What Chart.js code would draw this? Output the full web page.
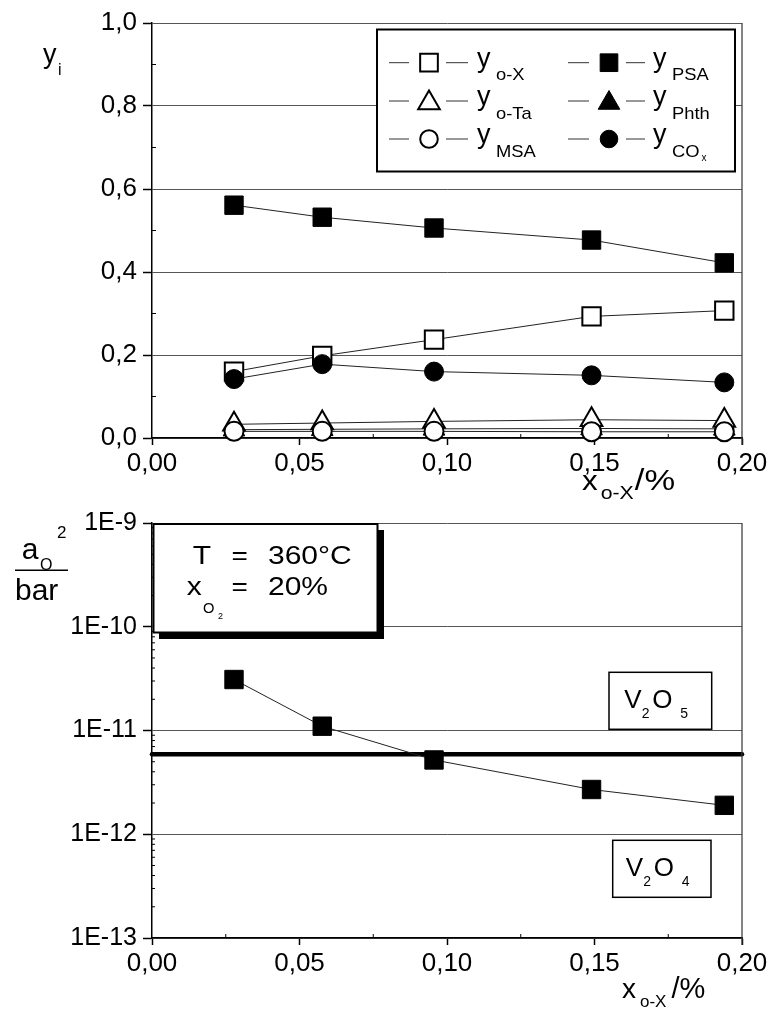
<!DOCTYPE html>
<html><head><meta charset="utf-8">
<script src="https://cdn.jsdelivr.net/npm/chart.js@4.4.1/dist/chart.umd.min.js"></script>
<style>
html,body{margin:0;padding:0;background:#fff;}
#wrap{position:relative;width:773px;height:1010px;overflow:hidden;}
.box{position:absolute;left:0;width:773px;}
</style></head><body>
<div id="wrap">
<div class="box" style="top:0;height:500px"><canvas id="c1" width="773" height="500"></canvas></div>
<div class="box" style="top:500px;height:510px"><canvas id="c2" width="773" height="510"></canvas></div>
</div>
<script>
// ---------- data ----------
const xOX = [0.0278, 0.0577, 0.0956, 0.149, 0.194];
const yOX = [0.160, 0.198, 0.237, 0.293, 0.307];
const yOTa = [0.033, 0.036, 0.040, 0.044, 0.042];
const yMSA = [0.016, 0.016, 0.016, 0.015, 0.015];
const yPSA = [0.561, 0.532, 0.506, 0.477, 0.422];
const yPhth = [0.020, 0.021, 0.022, 0.023, 0.022];
const yCOx = [0.142, 0.178, 0.160, 0.151, 0.134];
const aO2 = [3.1e-11, 1.1e-11, 5.2e-12, 2.7e-12, 1.9e-12];
const eqX = [0, 0.2];
const eqLevel = [5.9e-12, 5.9e-12];
const xTicks = [0, 0.05, 0.10, 0.15, 0.20];
const xMinor = [0.025, 0.075, 0.125, 0.175];
const yTicksTop = [0, 0.2, 0.4, 0.6, 0.8, 1.0];
const yMinorTop = [0.1, 0.3, 0.5, 0.7, 0.9];
const yTicksBottom = [1e-13, 1e-12, 1e-11, 1e-10, 1e-9];

const FONT = "'Liberation Sans', Arial, Helvetica, sans-serif";

function txt(ctx, s, x, y, size, sx) {
  ctx.save();
  ctx.font = size + 'px ' + FONT;
  ctx.fillStyle = '#000';
  ctx.textBaseline = 'alphabetic';
  ctx.textAlign = 'left';
  ctx.translate(x, y);
  ctx.scale(sx || 1, 1);
  ctx.fillText(s, 0, 0);
  const w = ctx.measureText(s).width * (sx || 1);
  ctx.restore();
  return x + w;
}

function marker(ctx, style, x, y, r, filled) {
  ctx.save();
  ctx.fillStyle = filled ? '#000' : '#fff';
  ctx.strokeStyle = '#000';
  ctx.lineWidth = filled ? 1 : 2;
  ctx.beginPath();
  if (style === 'rect') {
    const h = r * Math.SQRT1_2;
    ctx.rect(x - h, y - h, 2 * h, 2 * h);
  } else if (style === 'triangle') {
    ctx.moveTo(x, y - r);
    ctx.lineTo(x + 0.866 * r, y + 0.5 * r);
    ctx.lineTo(x - 0.866 * r, y + 0.5 * r);
    ctx.closePath();
  } else {
    ctx.arc(x, y, r, 0, Math.PI * 2);
  }
  ctx.fill(); ctx.stroke();
  ctx.restore();
}

const R = {rect: 13, triangle: 12.5, circle: 9.5};

function series(label, xs, ys, style, filled) {
  return {
    label, data: xs.map((x, i) => ({x, y: ys[i]})),
    pointStyle: style, pointRadius: R[style], pointHoverRadius: R[style],
    pointBackgroundColor: filled ? '#000' : '#fff', pointBorderColor: '#000',
    pointBorderWidth: filled ? 1 : 2,
    borderColor: '#222', borderWidth: 1, fill: false, tension: 0, clip: false
  };
}

const fmtX = v => v.toFixed(2).replace('.', ',');
const fmtYTop = v => v.toFixed(1).replace('.', ',');
const fmtLog = v => '1E' + Math.round(Math.log10(v));

function xScale(h) {
  return {
    type: 'linear', min: 0, max: 0.2,
    afterBuildTicks: s => { s.ticks = xTicks.map(v => ({value: v})); },
    afterFit: s => { s.height = h; },
    ticks: {callback: fmtX, color: '#000', font: {family: FONT, size: 26}, padding: 3, maxRotation: 0, autoSkip: false},
    grid: {drawOnChartArea: false, tickLength: 7, tickColor: '#000', tickWidth: 1.5},
    border: {color: '#000', width: 1.5}
  };
}

// ---------- top chart ----------
const topDecor = {
  id: 'topDecor',
  afterDraw(chart) {
    const {ctx, chartArea: a, scales: {x, y}} = chart;
    ctx.save();
    ctx.strokeStyle = '#333'; ctx.lineWidth = 1.2;
    ctx.beginPath(); ctx.moveTo(a.right, a.top); ctx.lineTo(a.right, a.bottom + 7); ctx.stroke();
    ctx.strokeStyle = '#000'; ctx.lineWidth = 1;
    ctx.beginPath();
    yMinorTop.forEach(v => { const p = y.getPixelForValue(v); ctx.moveTo(a.left, p); ctx.lineTo(a.left + 4, p); });
    xMinor.forEach(v => { const p = x.getPixelForValue(v); ctx.moveTo(p, a.bottom); ctx.lineTo(p, a.bottom - 4); });
    ctx.stroke();
    // legend box
    const L = 377, T = 29.5, Rr = 735, B = 171.5;
    ctx.fillStyle = '#fff'; ctx.fillRect(L, T, Rr - L, B - T);
    ctx.strokeStyle = '#000'; ctx.lineWidth = 2; ctx.strokeRect(L, T, Rr - L, B - T);
    const rows = [62.7, 101, 139];
    const cols = [{a0: 389, a1: 409, b0: 446, b1: 468, m: 429, t: 477},
                  {a0: 568, a1: 589, b0: 626, b1: 645, m: 609, t: 653}];
    const items = [
      [{st: 'rect', f: false, sub: 'o-X'}, {st: 'triangle', f: false, sub: 'o-Ta'}, {st: 'circle', f: false, sub: 'MSA'}],
      [{st: 'rect', f: true, sub: 'PSA'}, {st: 'triangle', f: true, sub: 'Phth'}, {st: 'circle', f: true, sub: 'CO', subsub: 'x'}]
    ];
    items.forEach((col, ci) => col.forEach((it, ri) => {
      const c = cols[ci], ry = rows[ri];
      ctx.strokeStyle = '#333'; ctx.lineWidth = 1;
      ctx.beginPath(); ctx.moveTo(c.a0, ry); ctx.lineTo(c.a1, ry); ctx.moveTo(c.b0, ry); ctx.lineTo(c.b1, ry); ctx.stroke();
      const rr = it.st === 'circle' ? 8.8 : 12.5;
      marker(ctx, it.st, c.m, ry + (it.st === 'triangle' ? 2 : 0), rr, it.f);
      txt(ctx, 'y', c.t, ry + 4, 27);
      const e = txt(ctx, it.sub, c.t + 19, ry + 17.5, 17, 1.08);
      if (it.subsub) txt(ctx, it.subsub, e + 2, ry + 22, 10);
    }));
    // axis titles
    txt(ctx, 'y', 43, 63, 27);
    txt(ctx, 'i', 58, 75, 16);
    let e = txt(ctx, 'x', 582, 490, 28, 1.12);
    e = txt(ctx, 'o-X', e + 3, 499, 19, 1.12);
    txt(ctx, '/%', e + 1, 490, 30, 1.15);
    ctx.restore();
  }
};

new Chart(document.getElementById('c1'), {
  type: 'line',
  data: {
    datasets: [
      series('y_COx', xOX, yCOx, 'circle', true),
      series('y_MSA', xOX, yMSA, 'circle', false),
      series('y_o-Ta', xOX, yOTa, 'triangle', false),
      series('y_Phth', xOX, yPhth, 'triangle', true),
      series('y_o-X', xOX, yOX, 'rect', false),
      series('y_PSA', xOX, yPSA, 'rect', true)
    ]
  },
  options: {
    responsive: false, animation: false, devicePixelRatio: 1, events: [],
    layout: {padding: {top: 23, right: 31, left: 0, bottom: 0}},
    plugins: {legend: {display: false}, tooltip: {enabled: false}},
    scales: {
      x: xScale(62),
      y: {
        type: 'linear', min: 0, max: 1,
        afterBuildTicks: s => { s.ticks = yTicksTop.map(v => ({value: v})); },
        afterFit: s => { s.width = 152; },
        ticks: {callback: fmtYTop, color: '#000', font: {family: FONT, size: 26}, padding: 6},
        grid: {color: '#555', lineWidth: 1, tickLength: 9, tickColor: '#000', tickWidth: 1.5},
        border: {color: '#000', width: 1.5}
      }
    }
  },
  plugins: [topDecor]
});

// ---------- bottom chart ----------
const botDecor = {
  id: 'botDecor',
  afterDraw(chart) {
    const {ctx, chartArea: a, scales: {x, y}} = chart;
    ctx.save();
    ctx.strokeStyle = '#333'; ctx.lineWidth = 1.2;
    ctx.beginPath(); ctx.moveTo(a.right, a.top); ctx.lineTo(a.right, a.bottom + 7); ctx.stroke();
    ctx.strokeStyle = '#000'; ctx.lineWidth = 1;
    ctx.beginPath();
    for (let k = -13; k < -9; k++) {
      for (let m = 2; m <= 9; m++) {
        const p = y.getPixelForValue(m * Math.pow(10, k));
        ctx.moveTo(a.left, p); ctx.lineTo(a.left + 3, p);
      }
    }
    xMinor.forEach(v => { const p = x.getPixelForValue(v); ctx.moveTo(p, a.bottom); ctx.lineTo(p, a.bottom - 4); });
    ctx.stroke();
    // condition box with shadow
    ctx.fillStyle = '#000'; ctx.fillRect(159, 30, 225, 109);
    ctx.fillStyle = '#fff'; ctx.fillRect(153.5, 24, 224, 108.5);
    ctx.strokeStyle = '#000'; ctx.lineWidth = 2; ctx.strokeRect(153.5, 24, 224, 108.5);
    txt(ctx, 'T', 192.7, 64, 25, 1.2);
    txt(ctx, '=', 231.5, 64, 25, 1.12);
    txt(ctx, '360°C', 268, 64, 25, 1.2);
    txt(ctx, 'x', 186.7, 95, 25, 1.2);
    txt(ctx, 'O', 203, 113, 14, 1.05);
    txt(ctx, '2', 218, 118.5, 9);
    txt(ctx, '=', 231.5, 95, 25, 1.12);
    txt(ctx, '20%', 268, 95, 25, 1.2);
    // phase boxes
    const phase = (l, t, r, b, n) => {
      ctx.fillStyle = '#fff'; ctx.fillRect(l, t, r - l, b - t);
      ctx.strokeStyle = '#000'; ctx.lineWidth = 1.5; ctx.strokeRect(l, t, r - l, b - t);
      const ox = (l + r) / 2 - 38;
      txt(ctx, 'V', ox + 2, t + 36, 26);
      txt(ctx, '2', ox + 19.5, t + 46, 14);
      txt(ctx, 'O', ox + 30, t + 36, 26);
      txt(ctx, n, ox + 58, t + 46, 14);
    };
    phase(609, 172.3, 711.7, 229.3, '5');
    phase(612.7, 340.3, 711, 397.3, '4');
    // axis titles
    txt(ctx, 'a', 21.7, 59, 30);
    txt(ctx, 'O', 40, 69.5, 16);
    txt(ctx, '2', 57, 38, 17);
    ctx.fillStyle = '#000'; ctx.fillRect(15, 69.5, 53, 1.5);
    txt(ctx, 'bar', 15, 100, 30);
    let e = txt(ctx, 'x', 622, 498, 28);
    e = txt(ctx, 'o-X', e + 4, 507, 17);
    txt(ctx, '/%', e + 5, 498, 29);
    ctx.restore();
  }
};

new Chart(document.getElementById('c2'), {
  type: 'line',
  data: {
    datasets: [
      series('a_O^2', xOX, aO2, 'rect', true),
      {label: 'V2O5/V2O4', data: eqX.map((x, i) => ({x, y: eqLevel[i]})), pointRadius: 0,
       borderColor: '#000', borderWidth: 4.5, borderCapStyle: 'round', fill: false, clip: false}
    ]
  },
  options: {
    responsive: false, animation: false, devicePixelRatio: 1, events: [],
    layout: {padding: {top: 23, right: 31, left: 0, bottom: 0}},
    plugins: {legend: {display: false}, tooltip: {enabled: false}},
    scales: {
      x: xScale(72),
      y: {
        type: 'logarithmic', min: 1e-13, max: 1e-9,
        afterBuildTicks: s => { s.ticks = yTicksBottom.map(v => ({value: v})); },
        afterFit: s => { s.width = 152; },
        ticks: {callback: fmtLog, color: '#000', font: {family: FONT, size: 25}, padding: 6},
        grid: {color: '#555', lineWidth: 1, tickLength: 9, tickColor: '#000', tickWidth: 1.5},
        border: {color: '#000', width: 1.5}
      }
    }
  },
  plugins: [botDecor]
});
</script>
</body></html>
